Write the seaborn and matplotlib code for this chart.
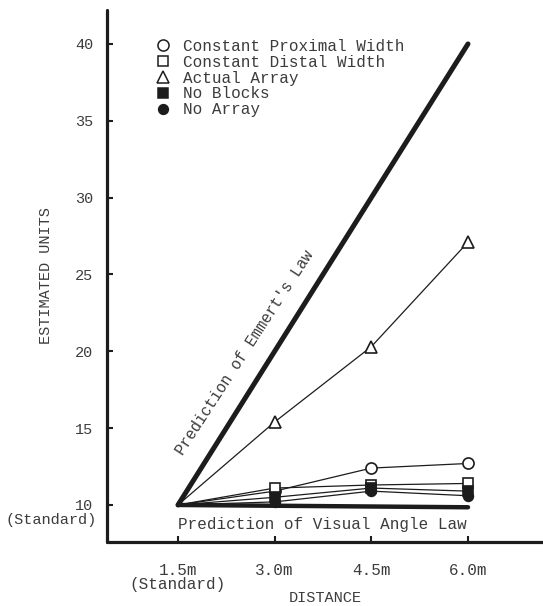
import numpy as np
import pandas as pd
import matplotlib
matplotlib.use("Agg")
import matplotlib.pyplot as plt
from matplotlib.lines import Line2D
import seaborn as sns

# distances (m) and estimated units per condition
distances = [1.5, 3.0, 4.5, 6.0]
proximal_width = [10, 10.9, 12.4, 12.7]
distal_width = [10, 11.1, 11.3, 11.4]
actual_array = [10, 15.4, 20.3, 27.1]
no_blocks = [10, 10.5, 11.1, 10.9]
no_array = [10, 10.2, 10.9, 10.6]

# theoretical predictions (end points)
law_distances = [1.5, 6.0]
emmert_units = [10, 40]
visual_angle_units = [10, 9.85]

series_names = [
    "Constant Proximal Width",
    "Constant Distal Width",
    "Actual Array",
    "No Blocks",
    "No Array",
]
series_values = [proximal_width, distal_width, actual_array, no_blocks, no_array]
x_tick_labels = ["1.5m\n(Standard)", "3.0m", "4.5m", "6.0m"]
y_ticks = [10, 15, 20, 25, 30, 35, 40]

INK = "#1c1c1c"
TEXT = "#3c3c3c"
# marker, face colour, size
marker_styles = {
    "Constant Proximal Width": ("o", "white", 8),
    "Constant Distal Width": ("s", "white", 7),
    "Actual Array": ("^", "white", 9),
    "No Blocks": ("s", INK, 7),
    "No Array": ("o", INK, 7),
}

sns.set_style("ticks")
plt.rcParams["font.family"] = ["Liberation Mono", "DejaVu Sans Mono"]
plt.rcParams["text.color"] = TEXT
plt.rcParams["axes.labelcolor"] = TEXT
plt.rcParams["xtick.color"] = INK
plt.rcParams["ytick.color"] = INK
plt.rcParams["xtick.labelcolor"] = TEXT
plt.rcParams["ytick.labelcolor"] = TEXT

fig = plt.figure(figsize=(5.43, 6.06), dpi=100)
ax = fig.add_axes([0.197, 0.1056, 0.803, 0.878])

df = pd.DataFrame(
    {
        "distance": np.tile(distances, len(series_names)),
        "units": np.concatenate(series_values),
        "condition": np.repeat(series_names, len(distances)),
    }
)

# prediction lines
sns.lineplot(x=law_distances, y=emmert_units, ax=ax, color=INK, lw=3.6,
             solid_capstyle="round", zorder=2)
sns.lineplot(x=law_distances, y=visual_angle_units, ax=ax, color=INK, lw=3.2,
             solid_capstyle="round", zorder=2)

# the standard (1.5m) point is shared and drawn without a marker
for name in series_names:
    marker, face, size = marker_styles[name]
    sub = df[df["condition"] == name]
    sns.lineplot(
        data=sub, x="distance", y="units", ax=ax, color=INK, lw=0.9,
        marker=marker, markersize=size, markerfacecolor=face,
        markeredgecolor=INK, markeredgewidth=1.2, markevery=[1, 2, 3],
        zorder=3,
    )

ax.set_xlim(0.398, 7.164)
ax.set_ylim(7.59, 42.21)

sns.despine(ax=ax)
for side in ["left", "bottom"]:
    ax.spines[side].set_linewidth(2.3)
    ax.spines[side].set_color(INK)
    ax.spines[side].set_capstyle("round")

ax.set_xticks(distances)
ax.set_xticklabels(x_tick_labels, fontsize=11.5)
for lbl in ax.get_xticklabels():
    lbl.set_linespacing(0.95)
ax.set_yticks(y_ticks)
ax.set_yticklabels([str(v) for v in y_ticks], fontsize=11)
ax.tick_params(axis="x", direction="in", length=4, width=1.5, pad=15)
ax.tick_params(axis="y", direction="in", length=4, width=1.5, pad=10)

ax.annotate("(Standard)", xy=(0, 10), xycoords=("axes fraction", "data"),
            xytext=(-7.2, -10.5), textcoords="offset points",
            ha="right", va="center", fontsize=11, color=TEXT)

ax.set_xlabel("DISTANCE", fontsize=11)
ax.xaxis.set_label_coords(0.5, -0.092)
ax.set_ylabel("ESTIMATED UNITS", fontsize=11)
ax.yaxis.set_label_coords(-0.124, 0.5)

ax.text(2.54, 19.9, "Prediction of Emmert's Law", rotation=57,
        rotation_mode="anchor", ha="center", va="center", fontsize=11.2,
        color=TEXT)
ax.text(1.5, 8.7, "Prediction of Visual Angle Law", ha="left", va="center",
        fontsize=11.5, color=TEXT)

handles = []
for name in series_names:
    marker, face, size = marker_styles[name]
    handles.append(Line2D([], [], linestyle="none", marker=marker,
                          markersize=size, markerfacecolor=face,
                          markeredgecolor=INK, markeredgewidth=1.1))
ax.legend(handles, series_names, loc="upper left",
          bbox_to_anchor=(0.110, 0.9455), frameon=False, fontsize=11.5,
          handlelength=1.0, handletextpad=0.75, labelspacing=0.05,
          borderpad=0, borderaxespad=0)

fig.savefig("out.png", dpi=100)
